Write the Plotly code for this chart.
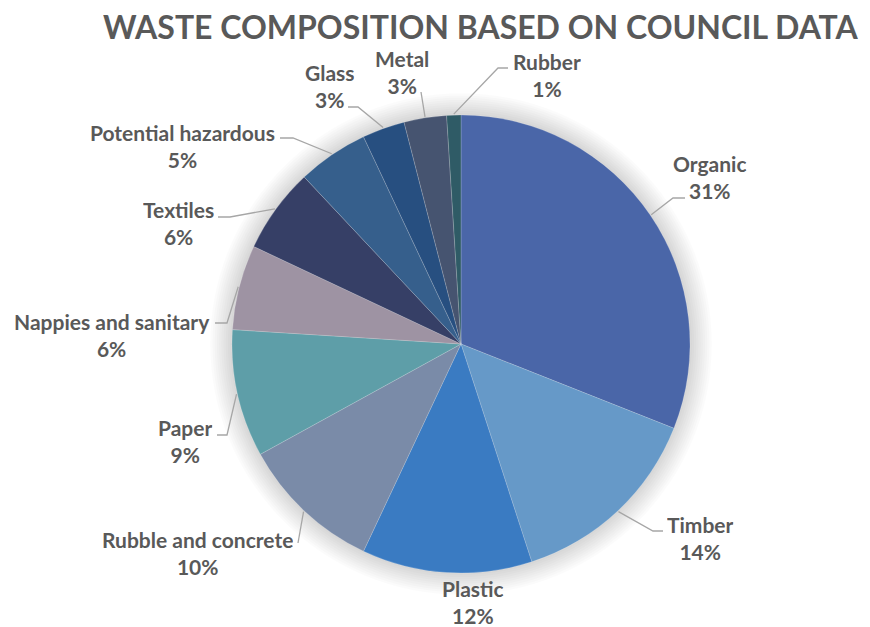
import math
import plotly.graph_objects as go

# page body has an 8px margin, so the figure is drawn 8px in from the corner
OFF = 8
W, H = 870 - OFF, 627 - OFF

# data
categories = ["Organic", "Timber", "Plastic", "Rubble and concrete", "Paper",
              "Nappies and sanitary", "Textiles", "Potential hazardous",
              "Glass", "Metal", "Rubber"]
shares = [31, 14, 12, 10, 9, 6, 6, 5, 3, 3, 1]
colors = ["#4A66A8", "#6699C8", "#3A7BC2", "#7A8BA8", "#5E9EA8", "#9E93A3",
          "#363F66", "#365F8C", "#274F80", "#465470", "#2F5B66"]

# layout of the pie (window pixels)
CX, CY, R = 461, 344, 229

# label text centres and leader anchors (window pixels): (cx, cy, elbow_x, elbow_y, stub_x)
label_layout = {
    "Organic": (710, 177, 673, 198, 685),
    "Timber": (700, 538, 653, 531, 663),
    "Plastic": (473, 602, None, None, None),
    "Rubble and concrete": (197, 553, 298, 543, None),
    "Paper": (185, 441, 227, 435, 217),
    "Nappies and sanitary": (112, 335, 227, 323, 215),
    "Textiles": (178, 223, 230, 217, 218),
    "Potential hazardous": (182, 146, 293, 138, 280),
    "Glass": (330, 86, 358, 107, 348),
    "Metal": (402, 72, 421, 92, None),
    "Rubber": (547, 75, 498, 68, 508),
}


def px(x):
    return (x - OFF) / W


def py(y):
    return 1 - (y - OFF) / H


fig = go.Figure(go.Pie(
    labels=categories,
    values=shares,
    sort=False,
    direction="clockwise",
    rotation=0,
    textinfo="none",
    hoverinfo="label+percent",
    marker=dict(colors=colors, line=dict(color="rgba(255,255,255,0.35)", width=0.5)),
    domain=dict(x=[px(CX - R), px(CX + R)], y=[py(CY + R), py(CY - R)]),
    showlegend=False,
))

# soft shadow around the pie
shapes = []
for i in range(10):
    rr = R + 2 + i * 2.2
    shapes.append(dict(
        type="circle", xref="paper", yref="paper", layer="below",
        x0=px(CX - rr), x1=px(CX + rr), y0=py(CY + rr), y1=py(CY - rr),
        fillcolor="rgba(0,0,0,0.014)", line=dict(width=0),
    ))

annotations = []
total = sum(shares)
cum = 0
for name, val in zip(categories, shares):
    mid = (cum + val / 2) / total * 2 * math.pi
    cum += val
    cx, cy, ex, ey, sx = label_layout[name]
    pct = round(val / total * 100)
    annotations.append(dict(
        x=px(cx), y=py(cy), xref="paper", yref="paper",
        text=f"<b>{name}</b><br><b>{pct}%</b>", showarrow=False,
        font=dict(family="Lato", size=21, color="#595959"),
        align="center", xanchor="center", yanchor="middle",
        height=48, valign="middle", borderpad=0,
    ))
    if ex is not None:
        x0 = CX + (R + 1) * math.sin(mid)
        y0 = CY - (R + 1) * math.cos(mid)
        path = f"M {px(x0)},{py(y0)} L {px(ex)},{py(ey)}"
        if sx is not None:
            path += f" L {px(sx)},{py(ey)}"
        shapes.append(dict(
            type="path", xref="paper", yref="paper", path=path,
            line=dict(color="#A6A6A6", width=1.3),
        ))

annotations.append(dict(
    x=px(481), y=1, xref="paper", yref="paper", showarrow=False,
    text="<b>WASTE COMPOSITION BASED ON COUNCIL DATA</b>",
    font=dict(family="Lato", size=32, color="#595959"),
    xanchor="center", yanchor="top", height=34, valign="middle", borderpad=0,
))

fig.update_layout(
    width=W, height=H,
    margin=dict(l=0, r=0, t=0, b=0),
    paper_bgcolor="white",
    plot_bgcolor="white",
    shapes=shapes,
    annotations=annotations,
)

fig.write_html("out.html")
